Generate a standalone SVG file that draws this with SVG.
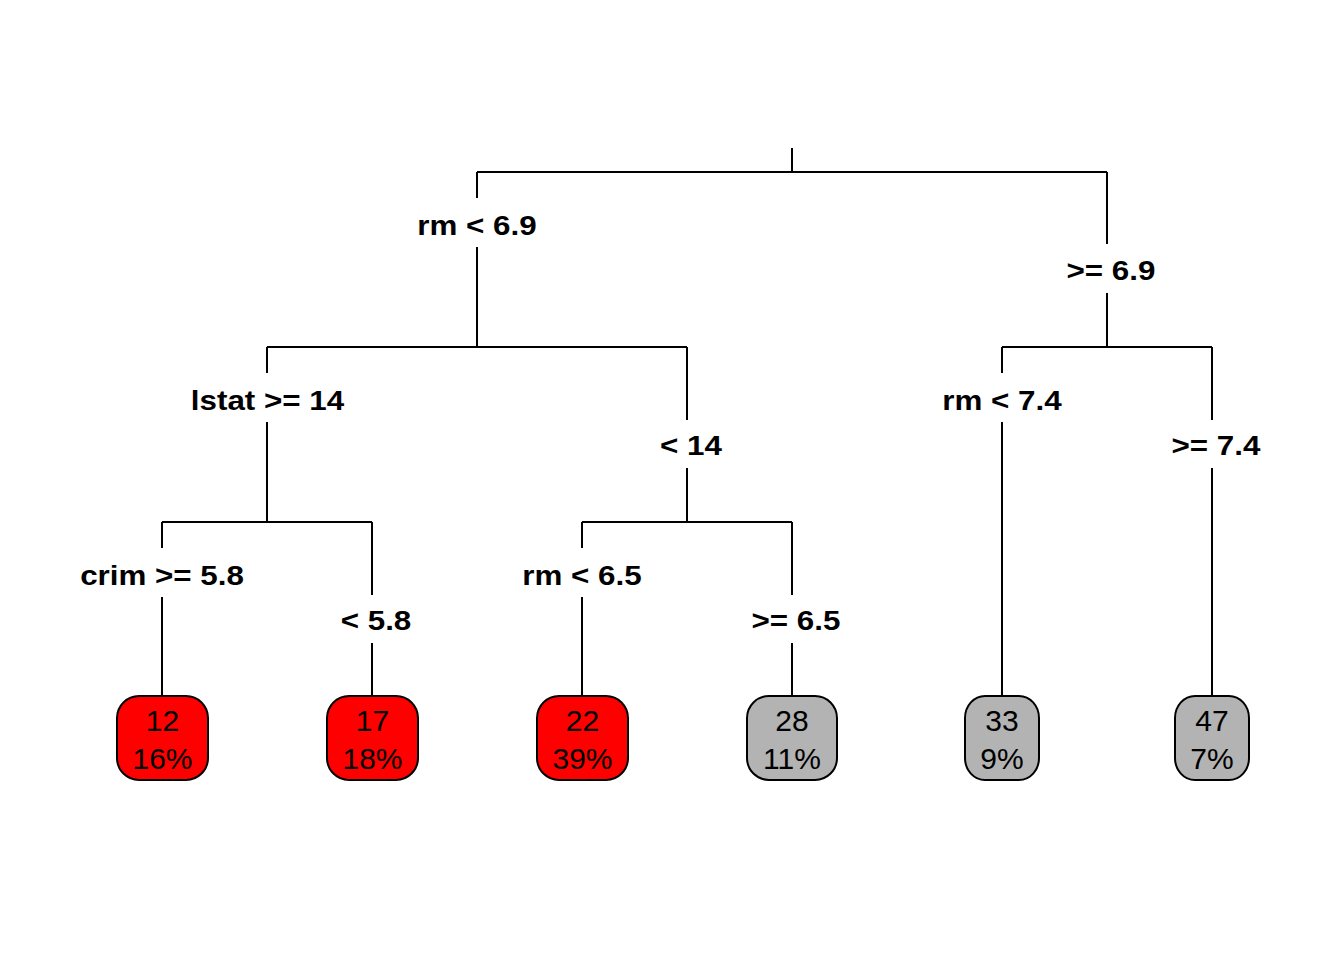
<svg xmlns="http://www.w3.org/2000/svg" width="1344" height="960" viewBox="0 0 1344 960">
<style>
.e{stroke:#000;stroke-width:2;fill:none}
.lab{font-family:"Liberation Sans",Arial,sans-serif;font-weight:bold;font-size:28.5px;text-anchor:middle;fill:#000}
.box{stroke:#000;stroke-width:2}
.red{fill:#FF0000}
.gray{fill:#B3B3B3}
.lt{font-family:"Liberation Sans",Arial,sans-serif;font-size:30px;text-anchor:middle;fill:#000}
</style>
<rect width="1344" height="960" fill="#fff"/>
<g id="connectors" class="e">
<path d="M792 148V172M477 172H1107"/>
<path d="M477 172V198M477 247V347M267 347H687"/>
<path d="M1107 172V244M1107 293V347M1002 347H1212"/>
<path d="M267 347V373M267 422V522M162 522H372"/>
<path d="M687 347V420M687 468V522M582 522H792"/>
<path d="M1002 347V373M1002 422V696"/>
<path d="M1212 347V420M1212 468V696"/>
<path d="M162 522V548M162 597V696"/>
<path d="M372 522V595M372 643V696"/>
<path d="M582 522V548M582 597V696"/>
<path d="M792 522V595M792 643V696"/>
</g>
<g id="labels">
<text class="lab" transform="translate(477,234.5) scale(1.1,1)">rm &lt; 6.9</text>
<text class="lab" transform="translate(1111,279.5) scale(1.1,1)">&gt;= 6.9</text>
<text class="lab" transform="translate(267.5,409.5) scale(1.1,1)">lstat &gt;= 14</text>
<text class="lab" transform="translate(691,454.5) scale(1.1,1)">&lt; 14</text>
<text class="lab" transform="translate(1002,409.5) scale(1.1,1)">rm &lt; 7.4</text>
<text class="lab" transform="translate(1216,454.5) scale(1.1,1)">&gt;= 7.4</text>
<text class="lab" transform="translate(162,584.5) scale(1.1,1)">crim &gt;= 5.8</text>
<text class="lab" transform="translate(376,629.5) scale(1.1,1)">&lt; 5.8</text>
<text class="lab" transform="translate(582,584.5) scale(1.1,1)">rm &lt; 6.5</text>
<text class="lab" transform="translate(796,629.5) scale(1.1,1)">&gt;= 6.5</text>
</g>
<g id="leaf12"><rect class="box red" x="117" y="696" width="91" height="84" rx="22" ry="22"/><text class="lt" x="162.5" y="731">12</text><text class="lt" x="162.5" y="769">16%</text></g>
<g id="leaf17"><rect class="box red" x="327" y="696" width="91" height="84" rx="22" ry="22"/><text class="lt" x="372.5" y="731">17</text><text class="lt" x="372.5" y="769">18%</text></g>
<g id="leaf22"><rect class="box red" x="537" y="696" width="91" height="84" rx="22" ry="22"/><text class="lt" x="582.5" y="731">22</text><text class="lt" x="582.5" y="769">39%</text></g>
<g id="leaf28"><rect class="box gray" x="747" y="696" width="90" height="84" rx="22" ry="22"/><text class="lt" x="792" y="731">28</text><text class="lt" x="792" y="769">11%</text></g>
<g id="leaf33"><rect class="box gray" x="965" y="696" width="74" height="84" rx="20" ry="22"/><text class="lt" x="1002" y="731">33</text><text class="lt" x="1002" y="769">9%</text></g>
<g id="leaf47"><rect class="box gray" x="1175" y="696" width="74" height="84" rx="20" ry="22"/><text class="lt" x="1212" y="731">47</text><text class="lt" x="1212" y="769">7%</text></g>
</svg>
